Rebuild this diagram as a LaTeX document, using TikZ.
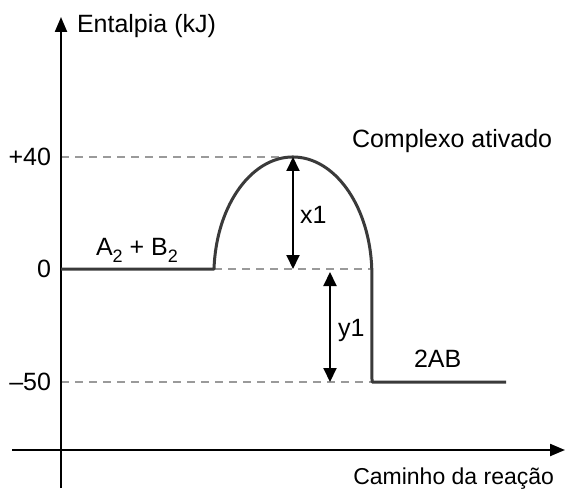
\documentclass[tikz,border=0pt]{standalone}
\usepackage{fontspec}
\setmainfont{Liberation Sans}
\usetikzlibrary{arrows.meta}
\definecolor{curvecol}{HTML}{3A3A3A}
\definecolor{dashcol}{HTML}{9A9A9A}
\newcommand{\lowsub}[1]{\raisebox{-7pt}{\fontsize{18}{18}\selectfont #1}}
\begin{document}
\begin{tikzpicture}[x=1pt,y=1pt,
  every node/.style={font=\fontsize{25}{28}\selectfont, inner sep=0pt, outer sep=0pt},
  axisline/.style={line width=2.2pt, black, -{Triangle[length=15pt,width=12pt]}},
  guideline/.style={line width=1.6pt, dashcol, dash pattern=on 8pt off 6pt},
  pathline/.style={line width=3pt, curvecol, line join=round},
  dimarrow/.style={line width=2pt, black, {Triangle[length=14pt,width=13pt]}-{Triangle[length=14pt,width=13pt]}}
]
\useasboundingbox (0,0) rectangle (570,488);
% coordinates
\coordinate (ybot) at (61,0);
\coordinate (ytop) at (61,471);
\coordinate (xleft) at (12,38);
\coordinate (xright) at (565,38);
\coordinate (l40) at (61,331);
\coordinate (l0) at (61,219);
\coordinate (lm50) at (61,106);
\coordinate (rise) at (214,219);
\coordinate (peak) at (293,331);
\coordinate (fall) at (372,219);
\coordinate (fallbot) at (372,106);
\coordinate (pend) at (506,106);
\coordinate (xa) at (293,219);
\coordinate (ya) at (330,216);
\coordinate (yb) at (330,106);
% guides
\draw[guideline] (l40) -- (peak);
\draw[guideline] (rise) -- (fall);
\draw[guideline] (lm50) -- (fallbot);
% axes
\draw[axisline] (ybot) -- (ytop);
\draw[axisline] (xleft) -- (xright);
% energy path
\draw[pathline] (l0) -- (rise) arc[start angle=177.1, end angle=2.9, x radius=79pt, y radius=118pt] -- (fallbot) -- (pend);
% dimension arrows
\draw[dimarrow] (peak) -- (xa);
\draw[dimarrow] (ya) -- (yb);
% labels
\node[anchor=base west] (tylab) at (77,455) {Entalpia (kJ)};
\node[anchor=base east, font=\fontsize{23}{26}\selectfont] (txlab) at (554,4) {Caminho da reação};
\node[anchor=east] (t40) at (51,331) {+40};
\node[anchor=east] (t0) at (51,219) {0};
\node[anchor=east] (tm50) at (51,106) {–50};
\node[anchor=base west] (tcomp) at (352,340) {Complexo ativado};
\node[anchor=base west] (treag) at (96,233) {A\lowsub{2} + B\lowsub{2}};
\node[anchor=base west] (tprod) at (414,121) {2AB};
\node[anchor=base west] (tx1) at (300,265) {x1};
\node[anchor=base west] (ty1) at (338,152) {y1};
\end{tikzpicture}
\end{document}
